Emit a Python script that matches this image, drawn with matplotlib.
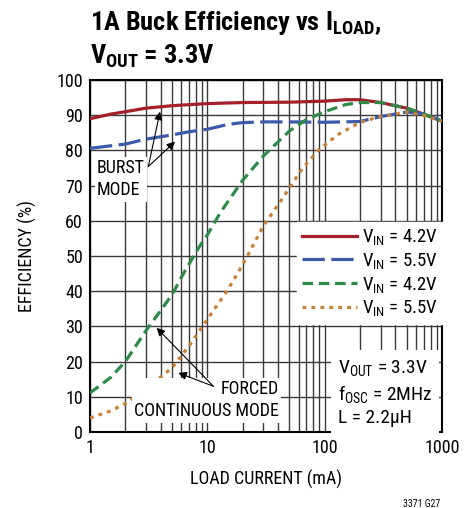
import matplotlib
matplotlib.use("Agg")
import matplotlib.pyplot as plt
from matplotlib.ticker import FixedLocator, NullFormatter

FONT = ['Roboto Condensed', 'Archivo Narrow', 'Liberation Sans', 'DejaVu Sans']
TITLE_FONT = ['Roboto Condensed', 'Barlow Semi Condensed', 'Liberation Sans', 'DejaVu Sans']
plt.rcParams['font.family'] = FONT
plt.rcParams['mathtext.default'] = 'regular'

# ---- data ----
x_red = [1, 1.5, 2, 3, 5, 7, 10, 20, 50, 100, 150, 200, 300, 500, 700, 1000]
y_red = [89.0, 90.3, 91.0, 92.0, 92.7, 93.0, 93.3, 93.6, 93.7, 94.0, 94.4, 94.4, 93.6, 92.0, 90.3, 88.3]

x_blue = [1, 2, 3, 5, 7, 10, 15, 20, 30, 50, 100, 200, 300, 500, 700, 1000]
y_blue = [80.6, 81.8, 83.2, 84.4, 85.3, 86.0, 87.4, 87.9, 88.1, 88.1, 88.0, 88.2, 89.6, 90.9, 90.4, 88.3]

x_green = [1, 1.5, 2, 3, 4, 5, 6.5, 8.5, 10, 13, 20, 30, 50, 70, 100, 150, 200, 300, 500, 700, 1000]
y_green = [11.1, 15.5, 20.0, 28.8, 34.5, 39.0, 46.0, 52.5, 56.0, 62.5, 71.5, 78.4, 85.5, 88.8, 91.0, 93.0, 93.6, 93.6, 92.0, 90.3, 88.3]

x_orange = [1, 1.5, 2, 3, 5, 7, 10, 15, 20, 30, 45, 65, 90, 130, 200, 300, 500, 700, 1000]
y_orange = [4.0, 6.0, 8.1, 12.3, 18.2, 24.5, 32.0, 40.5, 47.5, 58.5, 67.0, 75.0, 80.3, 84.5, 88.0, 89.6, 90.9, 89.9, 88.3]

series_labels = ['V$_{IN}$ = 4.2V', 'V$_{IN}$ = 5.5V', 'V$_{IN}$ = 4.2V', 'V$_{IN}$ = 5.5V']
x_ticks = [1, 10, 100, 1000]
x_ticklabels = ['1', '10', '100', '1000']
y_ticks = list(range(0, 101, 10))

fig = plt.figure(figsize=(4.72, 5.08), dpi=100)
ax = fig.add_axes([0.1907, 0.1496, 0.7457, 0.6929])

ax.set_xscale('log')
ax.set_xlim(1, 1000)
ax.set_ylim(0, 100)

minor = [m * d for d in (1, 10, 100) for m in range(2, 10)]
ax.xaxis.set_major_locator(FixedLocator(x_ticks))
ax.xaxis.set_minor_locator(FixedLocator(minor))
ax.xaxis.set_minor_formatter(NullFormatter())
ax.set_xticklabels(x_ticklabels)
ax.set_yticks(y_ticks)

ax.grid(True, which='major', axis='both', color='#3a3a3a', linewidth=1.0)
ax.grid(True, which='minor', axis='x', color='#3a3a3a', linewidth=1.0)
ax.tick_params(which='both', length=0, labelsize=13, pad=5)
for s in ax.spines.values():
    s.set_linewidth(1.5)
ax.set_axisbelow(True)

lw = 2.3
ax.plot(x_red, y_red, color='#a3202a', lw=lw, label=series_labels[0], zorder=3)
ax.plot(x_blue, y_blue, color='#3c5aaa', lw=lw, dashes=(7, 2), label=series_labels[1], zorder=3)
ax.plot(x_green, y_green, color='#2e8a48', lw=lw, dashes=(3.3, 1.8), label=series_labels[2], zorder=4)
ax.plot(x_orange, y_orange, color='#c98138', lw=lw, dashes=(1.2, 1.6), label=series_labels[3], zorder=4)

leg = ax.legend(loc='upper left', bbox_to_anchor=(0.587, 0.598), borderaxespad=0,
                frameon=True, fancybox=False, framealpha=1, edgecolor='white',
                fontsize=13.5, handlelength=2.9, handletextpad=0.3, labelspacing=0.2,
                borderpad=0.3)
leg.set_zorder(6)

# annotations
ax.text(1.14, 77.5, 'BURST\nMODE', fontsize=13, ha='left', va='top', linespacing=1.3,
        bbox=dict(facecolor='white', edgecolor='none', pad=1.5), zorder=5)
arrow = dict(arrowstyle='-|>', color='black', lw=0.8, mutation_scale=12, shrinkA=0, shrinkB=0)
ax.annotate('', xy=(3.95, 91.0), xytext=(3.14, 75.4), arrowprops=arrow, zorder=7)
ax.annotate('', xy=(5.3, 82.5), xytext=(3.14, 75.4), arrowprops=arrow, zorder=7)

ax.text(41, 9.0, 'FORCED\nCONTINUOUS MODE', fontsize=13, ha='right', va='center',
        multialignment='right', linespacing=1.3,
        bbox=dict(facecolor='white', edgecolor='none', pad=1.5), zorder=5)
ax.annotate('', xy=(3.7, 29.6), xytext=(11.25, 13.0), arrowprops=arrow, zorder=7)
ax.annotate('', xy=(5.66, 16.8), xytext=(11.25, 13.0), arrowprops=arrow, zorder=7)

ax.text(130, 11.2, 'V$_{OUT}$ = 3.3V\nf$_{OSC}$ = 2MHz\nL = 2.2µH', fontsize=14,
        ha='left', va='center', linespacing=1.27,
        bbox=dict(facecolor='white', edgecolor='none', pad=5), zorder=5)

ax.set_xlabel('LOAD CURRENT (mA)', fontsize=13, labelpad=9)
ax.set_ylabel('EFFICIENCY (%)', fontsize=13, labelpad=14)

fig.text(90 / 472, 1 - 23 / 508, '1A Buck Efficiency vs I$_{LOAD}$,', fontsize=19,
         fontweight='bold', ha='left', va='center', family=TITLE_FONT)
fig.text(90 / 472, 1 - 56 / 508, 'V$_{OUT}$ = 3.3V', fontsize=19,
         fontweight='bold', ha='left', va='center', family=TITLE_FONT)
fig.text(440 / 472, 1 - 504 / 508, '3371 G27', fontsize=7, ha='right', va='center')

fig.savefig('out.png', dpi=100)
